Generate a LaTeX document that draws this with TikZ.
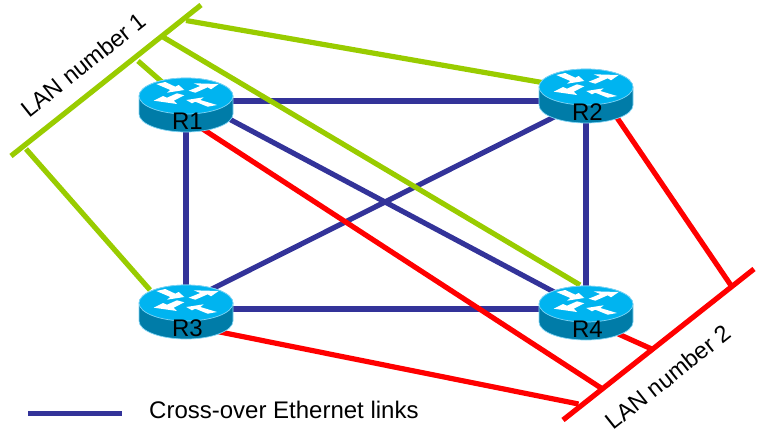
\documentclass[tikz,border=0pt]{standalone}
\usepackage{fontspec}
\setmainfont{Liberation Sans}
\definecolor{linkblue}{HTML}{333399}
\definecolor{langreen}{HTML}{99CC00}
\definecolor{lanred}{HTML}{FF0000}
\definecolor{routertop}{HTML}{00B4F0}
\definecolor{routerside}{HTML}{007CA8}
\definecolor{routeredge}{HTML}{7FD4F5}
\tikzset{
  wire/.style={line width=5.2pt},
  bluelink/.style={wire,linkblue},
  greenlink/.style={wire,langreen},
  redlink/.style={wire,lanred},
  routerlabel/.style={font=\fontsize{24}{24}\selectfont,inner sep=0pt,text=black},
  lanlabel/.style={font=\fontsize{23.5}{24}\selectfont,inner sep=0pt,rotate=38.5},
  legendlabel/.style={font=\fontsize{24}{24}\selectfont,inner sep=0pt,anchor=west},
  routerarrow/.style={fill=white,draw=none},
}
\newcommand{\routericon}[2]{%
  \begin{scope}[shift={(#1,#2)}]
    \path[fill=routerside,draw=routeredge,line width=.7pt]
      (-47,0) -- (-47,18) arc[start angle=180,end angle=0,x radius=47,y radius=18]
      -- (47,0) arc[start angle=0,end angle=-180,x radius=47,y radius=18] -- cycle;
    \path[fill=routertop,draw=routeredge,line width=.7pt] (0,0) ellipse[x radius=47,y radius=18];
    \path[routerarrow] (-29.7,-12) -- (-20.7,-14) -- (-10.7,-9.3) -- (-7.3,-11) -- (-1.7,-6) -- (-19,-3.3) -- (-15.7,-6) -- cycle;
    \path[routerarrow] (32.7,-12) -- (25,-6.7) -- (21.7,-8.7) -- (9.3,-3.3) -- (2.7,-5.3) -- (14.3,-10) -- (7.7,-12.7) -- cycle;
    \path[routerarrow] (-32.3,4.7) -- (-23,0) -- (-19,1.7) -- (-9,-2.7) -- (-1.7,-.7) -- (-12.3,4.7) -- (-9,8) -- cycle;
    \path[routerarrow] (.3,4) -- (17.7,1.3) -- (14.3,4) -- (31,9) -- (21.7,10.7) -- (9.3,5.7) -- (6,7.3) -- cycle;
  \end{scope}}
\begin{document}
\begin{tikzpicture}[x=1pt,y=-1pt]
\useasboundingbox (0,0) rectangle (763,439);
% anchors under the routers
\coordinate (r1) at (186,101);
\coordinate (r1d) at (186,96);
\coordinate (r2) at (586,101);
\coordinate (r3) at (186,309);
\coordinate (r3d) at (186,302);
\coordinate (r4) at (586,309);
% LAN 1
\coordinate (l1a) at (11,156);
\coordinate (l1b) at (201,5);
\coordinate (l1s1) at (26,149);
\coordinate (l1s2) at (138,61);
\coordinate (l1s3) at (163,37);
\coordinate (l1s4) at (186,20.5);
\coordinate (g1) at (162,82);
\coordinate (g2) at (545,83);
\coordinate (g3) at (150,290);
\coordinate (g4) at (580,285);
% LAN 2
\coordinate (l2a) at (563,420);
\coordinate (l2b) at (754,269);
\coordinate (l2s1) at (578.5,404);
\coordinate (l2s2) at (601,388);
\coordinate (l2s3) at (651.7,349);
\coordinate (l2s4) at (730.7,285);
\coordinate (e1) at (195,124);
\coordinate (e2) at (605,100);
\coordinate (e3) at (205,329);
\coordinate (e4) at (605,328);
% legend
\coordinate (lg1) at (28,413.5);
\coordinate (lg2) at (122,413.5);
% blue links
\draw[bluelink] (r1) -- (r2);
\draw[bluelink] (r3) -- (r4);
\draw[bluelink] (r1) -- (r3);
\draw[bluelink] (r2) -- (r4);
\draw[bluelink] (r1d) -- (r4);
\draw[bluelink] (r2) -- (r3d);
% green links
\draw[greenlink] (l1a) -- (l1b);
\draw[greenlink] (l1s1) -- (g3);
\draw[greenlink] (l1s2) -- (g1);
\draw[greenlink] (l1s3) -- (g4);
\draw[greenlink] (l1s4) -- (g2);
% red links
\draw[redlink] (l2a) -- (l2b);
\draw[redlink] (e1) -- (l2s2);
\draw[redlink] (e3) -- (l2s1);
\draw[redlink] (e4) -- (l2s3);
\draw[redlink] (e2) -- (l2s4);
% routers
\routericon{186}{96}
\routericon{586}{87}
\routericon{186}{303}
\routericon{586}{304}
\node[routerlabel] (n1) at (187.5,121) {R1};
\node[routerlabel] (n2) at (587.5,112) {R2};
\node[routerlabel] (n3) at (187.5,328) {R3};
\node[routerlabel] (n4) at (587.5,329) {R4};
% labels
\node[lanlabel] (t1) at (83.5,64.5) {LAN number 1};
\node[lanlabel] (t2) at (668,377) {LAN number 2};
\draw[bluelink] (lg1) -- (lg2);
\node[legendlabel] (t3) at (149,410) {Cross-over Ethernet links};
\end{tikzpicture}
\end{document}
